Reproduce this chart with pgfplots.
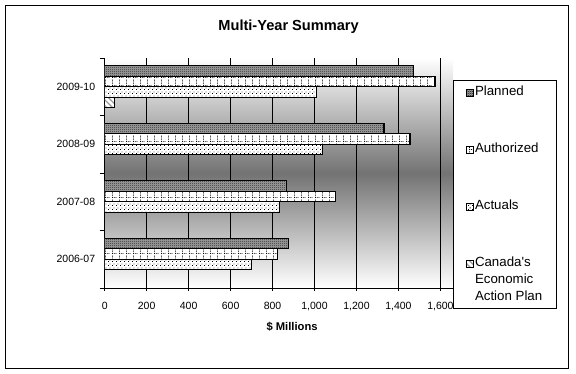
\documentclass[border=0pt]{standalone}
\usepackage{fontspec}
\setmainfont{Liberation Sans}
\usepackage{pgfplots}
\pgfplotsset{compat=1.18}
\usetikzlibrary{patterns,patterns.meta}

\tikzdeclarepattern{
  name=checker, type=uncolored,
  bottom left={(0bp,0bp)}, top right={(2bp,2bp)}, tile size={(2bp,2bp)},
  code={\fill (0bp,0bp) rectangle (1bp,1bp); \fill (1bp,1bp) rectangle (2bp,2bp);}
}
\tikzdeclarepattern{
  name=authgrid, type=uncolored,
  bottom left={(0bp,0bp)}, top right={(7bp,8bp)}, tile size={(7bp,8bp)},
  code={
    \fill (0bp,0bp) rectangle (1bp,1bp);
    \fill (0bp,2bp) rectangle (1bp,3bp);
    \fill (0bp,4bp) rectangle (1bp,5bp);
    \fill (0bp,6bp) rectangle (1bp,7bp);
    \fill (2bp,0bp) rectangle (3bp,1bp);
    \fill (4bp,0bp) rectangle (5bp,1bp);
  }
}
\tikzdeclarepattern{
  name=actdots, type=uncolored,
  bottom left={(0bp,0bp)}, top right={(4bp,4bp)}, tile size={(4bp,4bp)},
  code={\fill (0bp,0bp) rectangle (1bp,1bp); \fill (2bp,2bp) rectangle (3bp,3bp);}
}

\pgfplotsset{
  legsq/.style={legend image code/.code={\path (-12.7bp,0bp); \draw[##1, line width=0.7bp] (0bp,-4.5bp) rectangle (7bp,2.5bp);}},
  legsqup/.style={legend image code/.code={\path (-12.7bp,0bp); \draw[##1, line width=0.7bp] (0bp,12.5bp) rectangle (7bp,19.5bp);}},
}

\newcommand{\lgt}[1]{\begin{tabular}[t]{@{}p{81.8bp}@{}}#1\end{tabular}}

\begin{document}
\begin{tikzpicture}
\useasboundingbox (0bp,0bp) rectangle (576bp,374bp);
\draw[line width=1bp] (5.5bp,5.5bp) rectangle (568.5bp,368.5bp);
\begin{axis}[
  scale only axis, width=348.3bp, height=230bp,
  at={(104.7bp,86bp)}, anchor=south west,
  xmin=0, xmax=1660, ymin=-0.5, ymax=3.5,
  axis x line*=bottom, axis y line*=left,
  axis line style={-, line width=0.9bp, black},
  axis background/.style={top color=white, bottom color=white, middle color=black!55},
  xtick={0,200,400,600,800,1000,1200,1400,1600},
  xticklabels={0,200,400,600,800,{1,000},{1,200},{1,400},{1,600}},
  xtick align=center,
  xticklabel style={yshift=-8bp},
  ytick={0,1,2,3}, yticklabels={2006-07,2007-08,2008-09,2009-10},
  minor ytick={-0.5,0.5,1.5,2.5,3.5},
  ytick align=outside,
  major tick length=6bp, minor tick length=5bp,
  tick style={black, line width=0.9bp},
  every major y tick/.append style={draw=none},
  xmajorgrids, major grid style={black, line width=0.9bp},
  ticklabel style={font=\fontsize{10.5bp}{12bp}\selectfont},
  xlabel={\$ Millions},
  xlabel style={font=\bfseries\fontsize{11.2bp}{13bp}\selectfont, at={(axis description cs:0.538,-0.168)}, anchor=center},
  title={Multi-Year Summary},
  title style={font=\bfseries\fontsize{14.6bp}{17bp}\selectfont, at={(axis description cs:0.528,1.111)}, anchor=center},
  legend cell align=left,
  legend style={at={(1,0.904)}, anchor=north west, draw=black, line width=0.8bp, fill=white,
    inner xsep=0pt, inner ysep=3bp, row sep=40bp,
    font=\fontsize{13.3bp}{17bp}\selectfont,
    nodes={inner sep=0pt, text depth=},
    /tikz/every odd column/.append style={column sep=1bp}},
  barsty/.style={xbar, bar width=0.1826, draw=black, line width=1.1bp, preaction={fill=white}},
]
\addplot[barsty, preaction={fill=black!35}, bar shift=0.274, pattern=checker, legsq]
  coordinates {(876,0) (865,1) (1331,2) (1470,3)};
\addlegendentry{\lgt{Planned}}
\addplot[barsty, bar shift=0.0913, pattern=authgrid, legsq]
  coordinates {(822,0) (1098,1) (1455,2) (1574,3)};
\addlegendentry{\lgt{Authorized}}
\addplot[barsty, bar shift=-0.0913, pattern=actdots, legsq]
  coordinates {(698,0) (831,1) (1036,2) (1010,3)};
\addlegendentry{\lgt{Actuals}}
\addplot[barsty, bar shift=-0.274, pattern={Lines[angle=-45,distance=4bp,line width=1.2bp]}, pattern color=black!40, legsqup]
  coordinates {(46,3)};
\addlegendentry{\lgt{Canada\textquotesingle s\\Economic\\Action Plan}}
\end{axis}
\end{tikzpicture}
\end{document}
